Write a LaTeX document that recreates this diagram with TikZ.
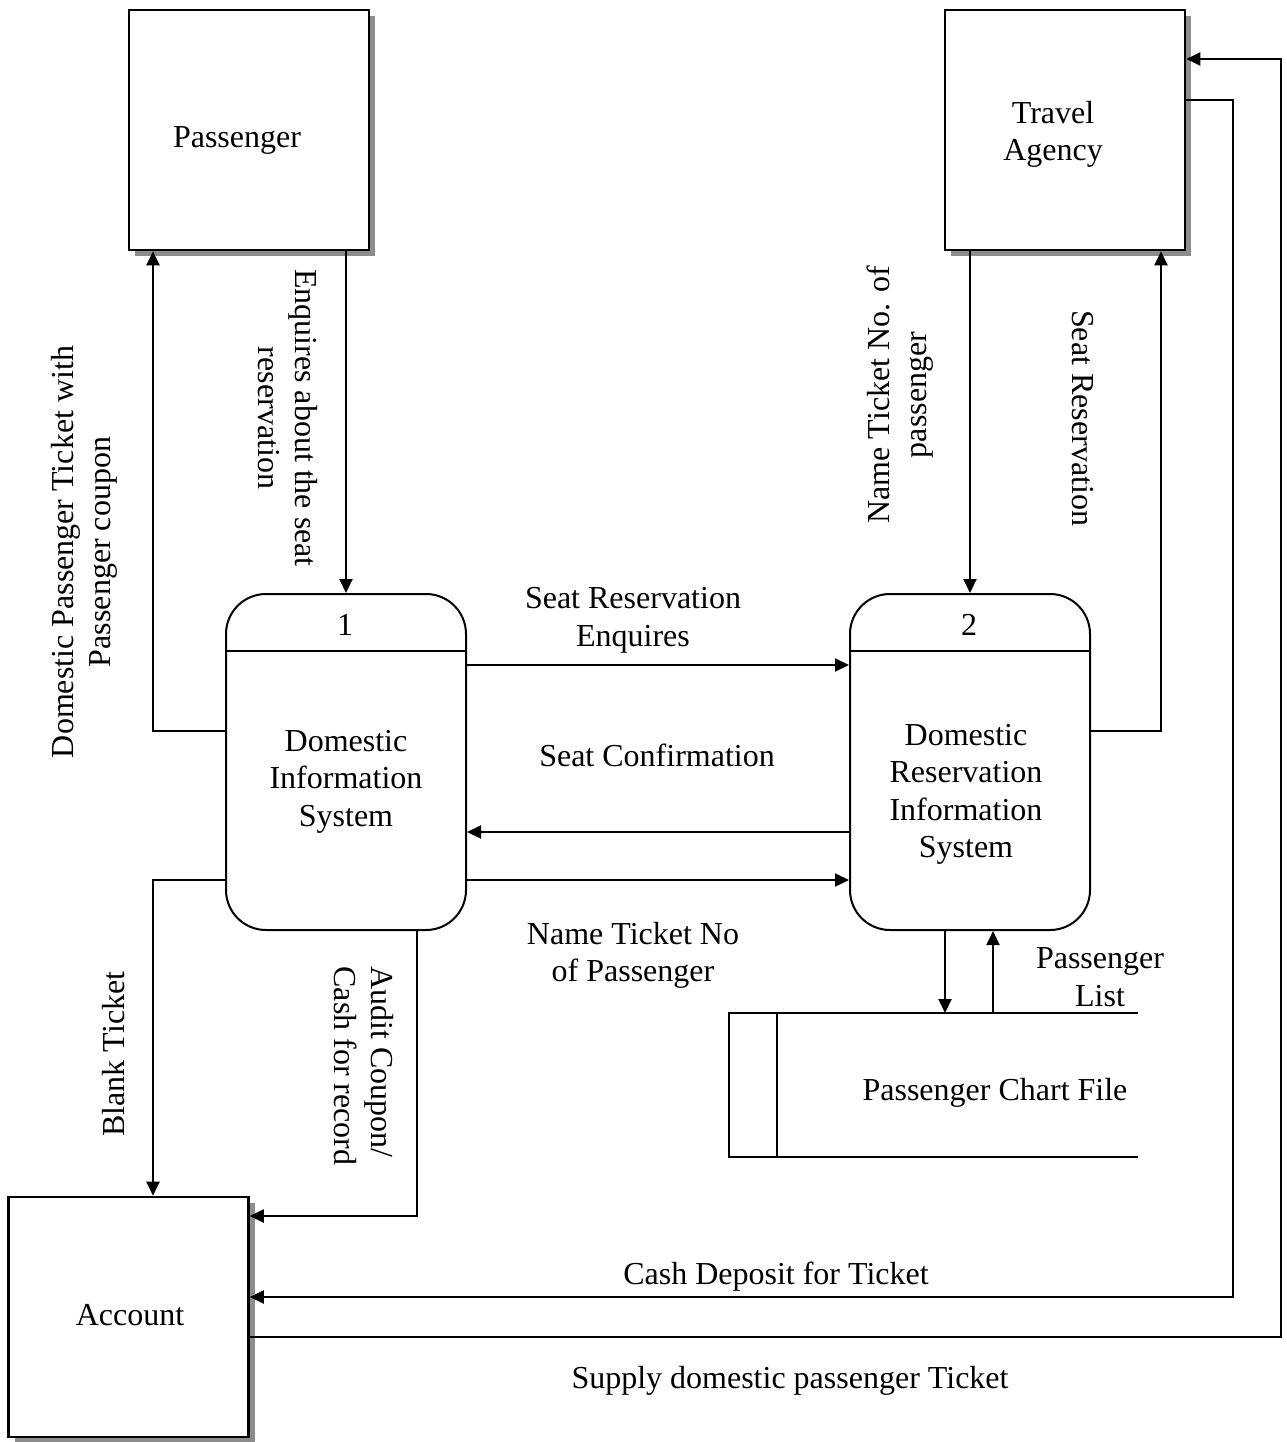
\documentclass[tikz,border=0pt]{standalone}
\usepackage{fontspec}
\setmainfont{Liberation Serif}
\usetikzlibrary{arrows.meta,shadows}
\begin{document}
\begin{tikzpicture}[x=1pt,y=-1pt,
  entity/.style={draw, line width=2.6pt, fill=white, minimum width=240pt, minimum height=240pt, inner sep=0pt,
    drop shadow={shadow xshift=6pt, shadow yshift=-6pt, fill=black!45, opacity=1}},
  proc/.style={draw, line width=2pt, fill=white, rounded corners=40pt, minimum width=240pt, minimum height=336pt, inner sep=0pt},
  txt/.style={font=\fontsize{32}{37.5}\selectfont, align=center, inner sep=0pt},
  flow/.style={-{Triangle[length=14pt,width=13pt]}, line width=2pt},
  storeline/.style={line width=2pt}]
\useasboundingbox (0,0) rectangle (1286,1442);

% external entities
\node[entity] (pas) at (249,130) {};
\node[txt] (pasT) at (237,140.5) {Passenger};
\node[entity] (ta) at (1065,130) {};
\node[txt] (taT) at (1053,134.5) {Travel\\Agency};
\node[entity] (acc) at (128.5,1317) {};
\node[txt] (accT) at (130,1315) {Account};

% processes
\node[proc] (p1) at (346,762) {};
\draw[line width=2pt] (226,651) -- (466,651);
\node[txt] (p1n) at (345,625) {1};
\node[txt] (p1T) at (346,781.5) {Domestic\\Information\\System};

\node[proc] (p2) at (970,762) {};
\draw[line width=2pt] (850,651) -- (1090,651);
\node[txt] (p2n) at (969,625) {2};
\node[txt] (p2T) at (966,794.5) {Domestic\\Reservation\\Information\\System};

% data store
\draw[storeline] (1138,1013) -- (729,1013) -- (729,1157) -- (1138,1157);
\draw[storeline] (777,1013) -- (777,1157);
\node[txt] (stT) at (995,1092.5) {Passenger Chart File};
\coordinate (st1) at (945,1013);
\coordinate (st2) at (993,1013);

% data flows
\draw[flow] (p1.north |- pas.south) -- (p1.north);
\draw[flow] ([yshift=31pt]p1.west) -| ([xshift=-96pt]pas.south);
\draw[flow] ([yshift=97pt]p1.east) -- ([yshift=97pt]p2.west);
\draw[flow] ([yshift=-70pt]p2.west) -- ([yshift=-70pt]p1.east);
\draw[flow] ([yshift=-118pt]p1.east) -- ([yshift=-118pt]p2.west);
\draw[flow] ([yshift=-118pt]p1.west) -| ([xshift=24.5pt]acc.north);
\draw[flow] ([xshift=71pt]p1.south) |- ([yshift=101pt]acc.east);
\draw[flow] (p2.north |- ta.south) -- (p2.north);
\draw[flow] ([yshift=31pt]p2.east) -| ([xshift=96pt]ta.south);
\draw[flow] ([xshift=-25pt]p2.south) -- (st1);
\draw[flow] (st2) -- (st2 |- p2.south);
\draw[flow] ([yshift=30pt]ta.east) -- ++(47,0) |- ([yshift=20pt]acc.east);
\draw[flow] ([yshift=-20pt]acc.east) -- ++(1031.5,0) |- ([yshift=71pt]ta.east);

% flow labels
\node[txt, rotate=90] (l1) at (84.5,552) {Domestic Passenger Ticket with\\Passenger coupon};
\node[txt, rotate=-90] (l2) at (288,418) {Enquires about the seat\\reservation};
\node[txt, rotate=90] (l3) at (900,395) {Name Ticket No. of\\passenger};
\node[txt, rotate=-90] (l4) at (1083,418) {Seat Reservation};
\node[txt] (l5) at (633,620.5) {Seat Reservation\\Enquires};
\node[txt] (l6) at (657,755) {Seat Confirmation};
\node[txt] (l7) at (633,955.5) {Name Ticket No\\of Passenger};
\node[txt] (l8) at (1100,977) {Passenger\\List};
\node[txt, rotate=90] (l9) at (114,1054) {Blank Ticket};
\node[txt, rotate=-90, align=left] (l10) at (364,1066) {Audit Coupon/\\Cash for record};
\node[txt] (l11) at (776,1276.5) {Cash Deposit for Ticket};
\node[txt] (l12) at (790,1380.5) {Supply domestic passenger Ticket};
\end{tikzpicture}
\end{document}
